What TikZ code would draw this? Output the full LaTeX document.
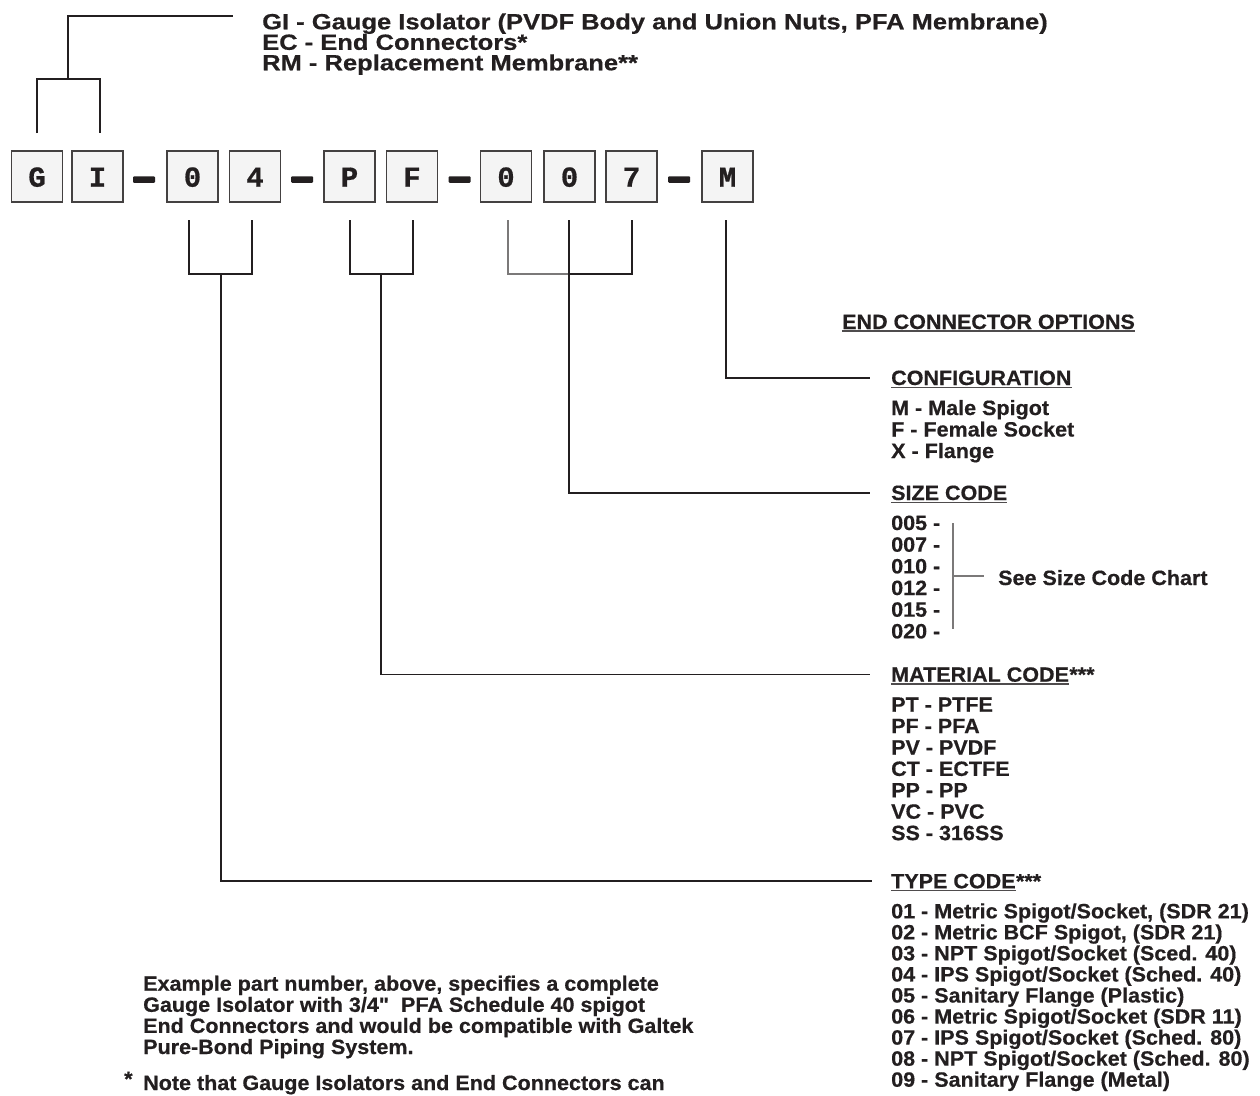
\documentclass[tikz,border=0pt]{standalone}
\usepackage{fontspec}
\setmainfont{Liberation Sans}
\newfontfamily\topfont[FakeStretch=1.16, BoldFeatures={FakeBold=0.5}]{Liberation Sans}
\newfontfamily\txtfont[FakeStretch=1.04, BoldFeatures={FakeBold=0.5}]{Liberation Sans}
\newfontfamily\boxfont[BoldFeatures={FakeBold=0.6}]{Liberation Mono}
\definecolor{ink}{HTML}{231F20}
\definecolor{boxfill}{HTML}{F4F4F4}
\begin{document}
\begin{tikzpicture}[x=1pt,y=-1pt,
  conn/.style={draw=ink, line width=1.5pt},
  connlt/.style={draw=ink!60, line width=1.1pt},
  uln/.style={draw=ink!80, line width=1.3pt},
  digit/.style={draw=ink!85, fill=boxfill, line width=1.6pt, minimum width=51pt, minimum height=51pt,
    inner sep=0pt, text height=22pt, text depth=1.2pt, text=ink,
    font=\boxfont\bfseries\fontsize{29}{29}\selectfont},
  dashbar/.style={fill=ink, minimum width=22pt, minimum height=6.5pt, inner sep=0pt, rounded corners=1pt},
  toptxt/.style={anchor=base west, inner sep=0pt, text=ink, font=\topfont\bfseries\fontsize{22}{20.5}\selectfont},
  txt/.style={anchor=base west, inner sep=0pt, text=ink, font=\txtfont\bfseries\fontsize{20.7}{21.5}\selectfont},
]
\fill[white] (0,0) rectangle (1260,1095);
\useasboundingbox (0,0) rectangle (1260,1095);

% part number boxes
\node[digit] (bG) at (37,176.3) {G};
\node[digit] (bI) at (97.5,176.3) {I};
\node[dashbar] (d1) at (144,179.5) {};
\node[digit] (b0a) at (192.5,176.3) {0};
\node[digit] (b4) at (255,176.3) {4};
\node[dashbar] (d2) at (302,179.5) {};
\node[digit] (bP) at (349.5,176.3) {P};
\node[digit] (bF) at (412,176.3) {F};
\node[dashbar] (d3) at (459.5,179.5) {};
\node[digit] (b0b) at (506,176.3) {0};
\node[digit] (b0c) at (569.5,176.3) {0};
\node[digit] (b7) at (631.5,176.3) {7};
\node[dashbar] (d4) at (679,179.5) {};
\node[digit] (bM) at (727.5,176.3) {M};

% top description
\node[toptxt] (gi) at (262,29.3) {GI - Gauge Isolator (PVDF Body and Union Nuts, PFA Membrane)};
\node[toptxt] (ec) at (262,49.8) {EC - End Connectors*};
\node[toptxt] (rm) at (262,70.3) {RM - Replacement Membrane**};

% right column
\node[txt] (eco) at (842,329) {END CONNECTOR OPTIONS};
\draw[uln] ([yshift=-2pt]eco.base west) -- ([yshift=-2pt]eco.base east);

\node[txt] (cfg) at (891,385) {CONFIGURATION\ };
\draw[uln] ([yshift=-2.3pt]cfg.base west) -- ([yshift=-2.3pt]cfg.base east);
\foreach \t [count=\i from 0] in {M - Male Spigot, F - Female Socket, X - Flange}
  \node[txt] (cf\i) at (891,415+21.5*\i) {\t};

\node[txt] (siz) at (891,500) {SIZE CODE\ };
\draw[uln] ([yshift=-2.3pt]siz.base west) -- ([yshift=-2.3pt]siz.base east);
\foreach \t [count=\i from 0] in {005 -, 007 -, 010 -, 012 -, 015 -, 020 -}
  \node[txt] (sz\i) at (891,530+21.67*\i) {\t};
\node[txt] (see) at (998,585) {See Size Code Chart};
\coordinate (sv1) at (953,523);
\coordinate (sv2) at (953,629);
\coordinate (sj) at (953,576);
\draw[connlt] (sv1) -- (sv2);
\draw[connlt] (sj) -- ([xshift=-14pt]see.west |- sj);

\node[txt] (mat) at (891,681.7) {MATERIAL CODE};
\node[txt] (mats) at (mat.base east) {***};
\draw[uln] ([yshift=-2.3pt]mat.base west) -- ([yshift=-2.3pt]mat.base east);
\foreach \t [count=\i from 0] in {PT - PTFE, PF - PFA, PV - PVDF, CT - ECTFE, PP - PP, VC - PVC, SS - 316SS}
  \node[txt] (mt\i) at (891,711.7+21.4*\i) {\t};

\node[txt] (typ) at (891,888.3) {TYPE CODE};
\node[txt] (typs) at (typ.base east) {***};
\draw[uln] ([yshift=-2.3pt]typ.base west) -- ([yshift=-2.3pt]typ.base east);
\foreach \t [count=\i from 0] in {{01 - Metric Spigot/Socket, (SDR 21)}, {02 - Metric BCF Spigot, (SDR 21)},
  {03 - NPT Spigot/Socket (Sced. 40)}, {04 - IPS Spigot/Socket (Sched. 40)}, {05 - Sanitary Flange (Plastic)},
  {06 - Metric Spigot/Socket (SDR 11)}, {07 - IPS Spigot/Socket (Sched. 80)}, {08 - NPT Spigot/Socket (Sched. 80)},
  {09 - Sanitary Flange (Metal)}}
  \node[txt] (ty\i) at (891,918.3+21.05*\i) {\t};

% bottom notes
\foreach \t [count=\i from 0] in {{Example part number, above, specifies a complete},
  {Gauge Isolator with 3/4"\ \ PFA Schedule 40 spigot},
  {End Connectors and would be compatible with Galtek},
  {Pure-Bond Piping System.}}
  \node[txt] (ex\i) at (143,990.7+21.1*\i) {\t};
\node[txt] (ast) at (124,1086) {*};
\node[txt] (note) at (143,1090) {Note that Gauge Isolators and End Connectors can};

% top bracket (GI)
\coordinate (gl) at (37,133);
\coordinate (gr) at (100,133);
\coordinate (gj) at (68,79);
\coordinate (gt) at (233,16);
\draw[conn] (gl) |- (gj) -| (gr);
\draw[conn] (gj) |- (gt);

% 04 -> type code
\coordinate (al) at (189,220);
\coordinate (ar) at (252,220);
\coordinate (aj) at (221,274);
\draw[conn] (al) |- (aj) -| (ar);
\draw[conn] (aj) |- ([xshift=-19pt]typ.west);

% PF -> material code
\coordinate (pl) at (350,220);
\coordinate (pr) at (413,220);
\coordinate (pj) at (381,274);
\draw[conn] (pl) |- (pj) -| (pr);
\draw[conn] (pj) |- ([xshift=-21pt]mat.west);

% 007 -> size code
\coordinate (cl) at (508,220);
\coordinate (cm) at (569,220);
\coordinate (cr) at (632,220);
\coordinate (cj) at (569,274);
\draw[connlt] (cl) |- (cj);
\draw[conn] (cj) -| (cr);
\draw[conn] (cm) -- (cj) |- ([xshift=-21pt]siz.west);

% M -> configuration
\coordinate (ml) at (726,220);
\draw[conn] (ml) |- ([xshift=-21pt]cfg.west);
\end{tikzpicture}
\end{document}
